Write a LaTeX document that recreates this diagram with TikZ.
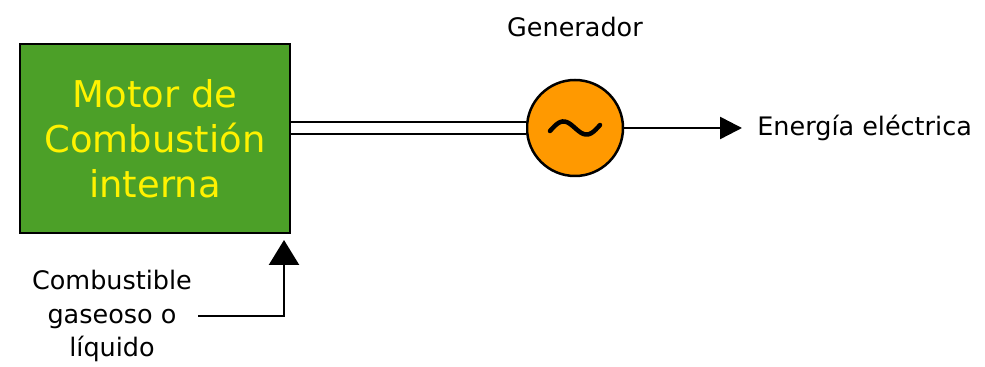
\documentclass[tikz,border=0pt]{standalone}
\usepackage{fontspec}
\setmainfont{DejaVu Sans}
\usetikzlibrary{arrows.meta}
\definecolor{motorgreen}{RGB}{76,160,40}
\definecolor{genorange}{RGB}{255,153,0}
\begin{document}
\begin{tikzpicture}[font=\fontsize{14.5}{18.8}\selectfont]
    \useasboundingbox (0,0) rectangle (19.7,7.34);
    \node[draw, line width=0.05cm, fill=motorgreen, minimum width=5.4cm, minimum height=3.78cm, text=yellow, align=center, font=\fontsize{21}{25.5}\selectfont] (motor) at (3.1,4.57) {Motor de\\Combustión\\interna};
    \node[draw, line width=0.05cm, fill=genorange, circle, minimum size=1.92cm, inner sep=0pt] (gen) at (11.5,4.78) {};
    \draw[shift={(gen.center)}, line width=0.09cm, line cap=round] plot[smooth, domain=-0.5:0.5, samples=25] (\x, {-0.16*sin(2*pi*\x r) + 0.12*\x});
    \node (genlabel) at (11.5,6.8) {Generador};
    \node[anchor=west, inner xsep=0.3cm] (out) at (14.84,4.78) {Energía eléctrica};
    \node[align=center] (fuel) at (2.24,1.02) {Combustible\\gaseoso o\\líquido};
    \coordinate (in) at (5.68,2.54);
    \draw[line width=0.045cm, double, double distance=0.19cm] (gen.west -| motor.east) -- (gen.west);
    \draw[line width=0.05cm, -{Triangle[length=0.44cm, width=0.44cm]}] (gen.east) -- (out.west);
    \draw[line width=0.05cm, -{Triangle[length=0.5cm, width=0.6cm]}] (fuel.east) -| (in);
\end{tikzpicture}
\end{document}
